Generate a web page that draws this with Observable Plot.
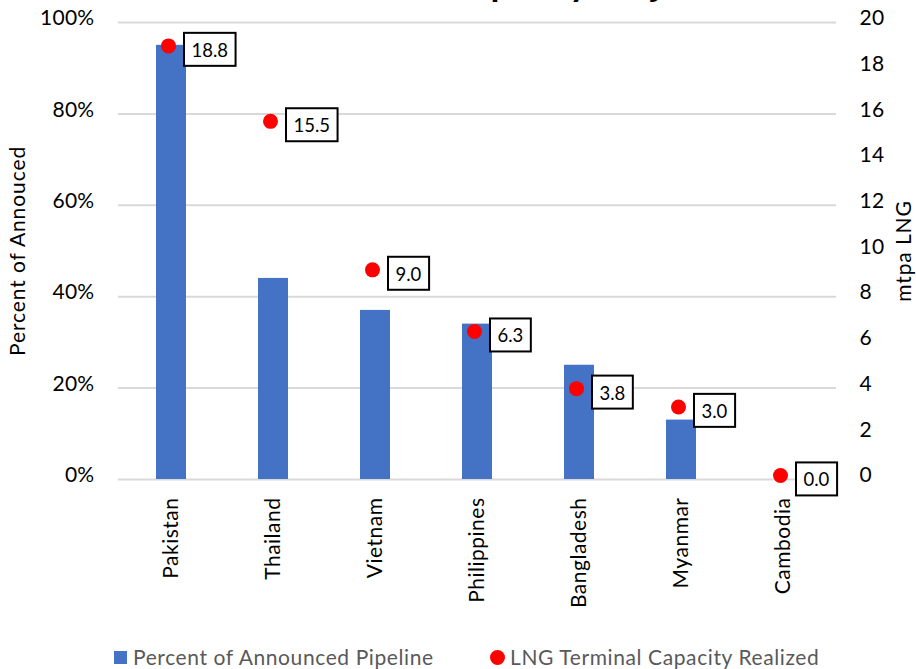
<!DOCTYPE html>
<html>
<head>
<meta charset="utf-8">
<script src="https://cdn.jsdelivr.net/npm/d3@7"></script>
<script src="https://cdn.jsdelivr.net/npm/@observablehq/plot@0.6"></script>
<style>
  body { margin: 0; background: #fff; font-family: Lato, "Open Sans", sans-serif; }
  #wrap { position: relative; width: 916px; height: 669px; overflow: hidden; }
  #wrap svg { position: absolute; left: 0; top: 0; }
  #title { position: absolute; left: 0; top: -38px; width: 973px; text-align: center;
           font: bold 36px/40px Lato, sans-serif; color: #000; white-space: nowrap; }
  .legend { position: absolute; top: 646px; font-size: 21px; color: #595959; line-height: 22px; white-space: nowrap; letter-spacing: 0.6px; }
  .swatch { position: absolute; }
  g[aria-label="x-axis tick label"] text { letter-spacing: 0.5px; }
  g[aria-label="y-axis tick label"] text { letter-spacing: 0.3px; }
  g[aria-description="axis title"] text { letter-spacing: 0.9px; }
</style>
</head>
<body>
<div id="wrap">
  <div id="title">LNG Terminal Capacity Projected</div>
</div>
<script>
// Countries in chart order
const countries = ["Pakistan", "Thailand", "Vietnam", "Philippines", "Bangladesh", "Myanmar", "Cambodia"];
// Share of the announced pipeline that has been built (%)
const pipelineShare = [95, 44, 37, 34, 25, 13, 0];
// Terminal capacity realized (mtpa LNG)
const capacityRealized = [18.8, 15.5, 9.0, 6.3, 3.8, 3.0, 0.0];
// Axis ticks
const percentTicks = [0, 20, 40, 60, 80, 100];
const mtpaTicks = [0, 2, 4, 6, 8, 10, 12, 14, 16, 18, 20];
const mtpaMax = 20;

// Legend entries
const legendBar = "Percent of Announced Pipeline";
const legendDot = "LNG Terminal Capacity Realized";

const rows = countries.map((country, i) => ({
  country,
  share: pipelineShare[i],
  cap: capacityRealized[i]
}));

// secondary axis (mtpa) mapped onto the percent scale
const toPct = v => v * 100 / mtpaMax;

const chart = Plot.plot({
  width: 916,
  height: 630,
  marginTop: 22,
  marginBottom: 151,
  marginLeft: 118,
  marginRight: 80,
  style: { fontFamily: "Lato, sans-serif", fontSize: "21px", color: "#000", background: "transparent", overflow: "visible" },
  x: { domain: countries, paddingInner: 0.708, paddingOuter: 0.354, label: null },
  y: { domain: [0, 100], label: null },
  marks: [
    Plot.gridY(percentTicks, { stroke: "#d9d9d9", strokeOpacity: 1, strokeWidth: 2 }),
    Plot.barY(rows, { x: "country", y: "share", fill: "#4472c4" }),
    Plot.axisY(percentTicks, { anchor: "left", tickSize: 0, tickPadding: 24, tickFormat: d => d + "%", label: null, dy: -4, fontSize: 21 }),
    Plot.axisY(mtpaTicks, { anchor: "right", y: toPct, tickSize: 0, tickPadding: 23, tickFormat: d => String(d), label: null, dy: -4, fontSize: 21 }),
    Plot.axisX({ tickSize: 0, tickPadding: 18, tickRotate: -90, label: null, fontSize: 21 }),
    Plot.dot(rows, { x: "country", y: d => toPct(d.cap), r: 7.5, fill: "#ff0000", dx: -3, dy: -4 }),
    Plot.text(rows, {
      x: "country", y: d => toPct(d.cap), text: d => d.cap.toFixed(1),
      textAnchor: "start", dx: 20, dy: 1, fontSize: 18.5, fill: "#000",
      ariaDescription: "capacity labels"
    }),
    Plot.text(["Percent of Annouced"], { frameAnchor: "left", textAnchor: "middle", dx: -100, rotate: -90, fontSize: 21, fill: "#000", ariaDescription: "axis title" }),
    Plot.text(["mtpa LNG"], { frameAnchor: "right", textAnchor: "middle", dx: 68, rotate: -90, fontSize: 21, fill: "#000", ariaDescription: "axis title" })
  ]
});

const wrap = document.getElementById("wrap");
wrap.appendChild(chart);

// boxed value labels: a white, black-bordered rectangle behind each label
const labelGroup = chart.querySelector('g[aria-description="capacity labels"]');
if (labelGroup) {
  labelGroup.querySelectorAll("text").forEach(t => {
    const b = t.getBBox();
    const r = document.createElementNS("http://www.w3.org/2000/svg", "rect");
    const tf = t.getAttribute("transform");
    if (tf) r.setAttribute("transform", tf);
    const cy = b.y + b.height / 2;
    r.setAttribute("x", b.x - 7.5);
    r.setAttribute("y", cy - 17);
    r.setAttribute("width", b.width + 15);
    r.setAttribute("height", 33);
    r.setAttribute("fill", "#fff");
    r.setAttribute("stroke", "#000");
    r.setAttribute("stroke-width", 2);
    t.parentNode.insertBefore(r, t);
  });
}

// legend below the chart
function legendItem(swatchHtml, swLeft, swTop, textLeft, label) {
  const sw = document.createElement("div");
  sw.className = "swatch";
  sw.innerHTML = swatchHtml;
  sw.style.left = swLeft + "px";
  sw.style.top = swTop + "px";
  wrap.appendChild(sw);
  const el = document.createElement("div");
  el.className = "legend";
  el.style.left = textLeft + "px";
  el.textContent = label;
  wrap.appendChild(el);
}
legendItem('<div style="width:13px;height:13px;background:#4472c4"></div>', 114, 651, 133, legendBar);
legendItem('<div style="width:15px;height:15px;border-radius:50%;background:#ff0000"></div>', 490, 650, 510, legendDot);
</script>
</body>
</html>
